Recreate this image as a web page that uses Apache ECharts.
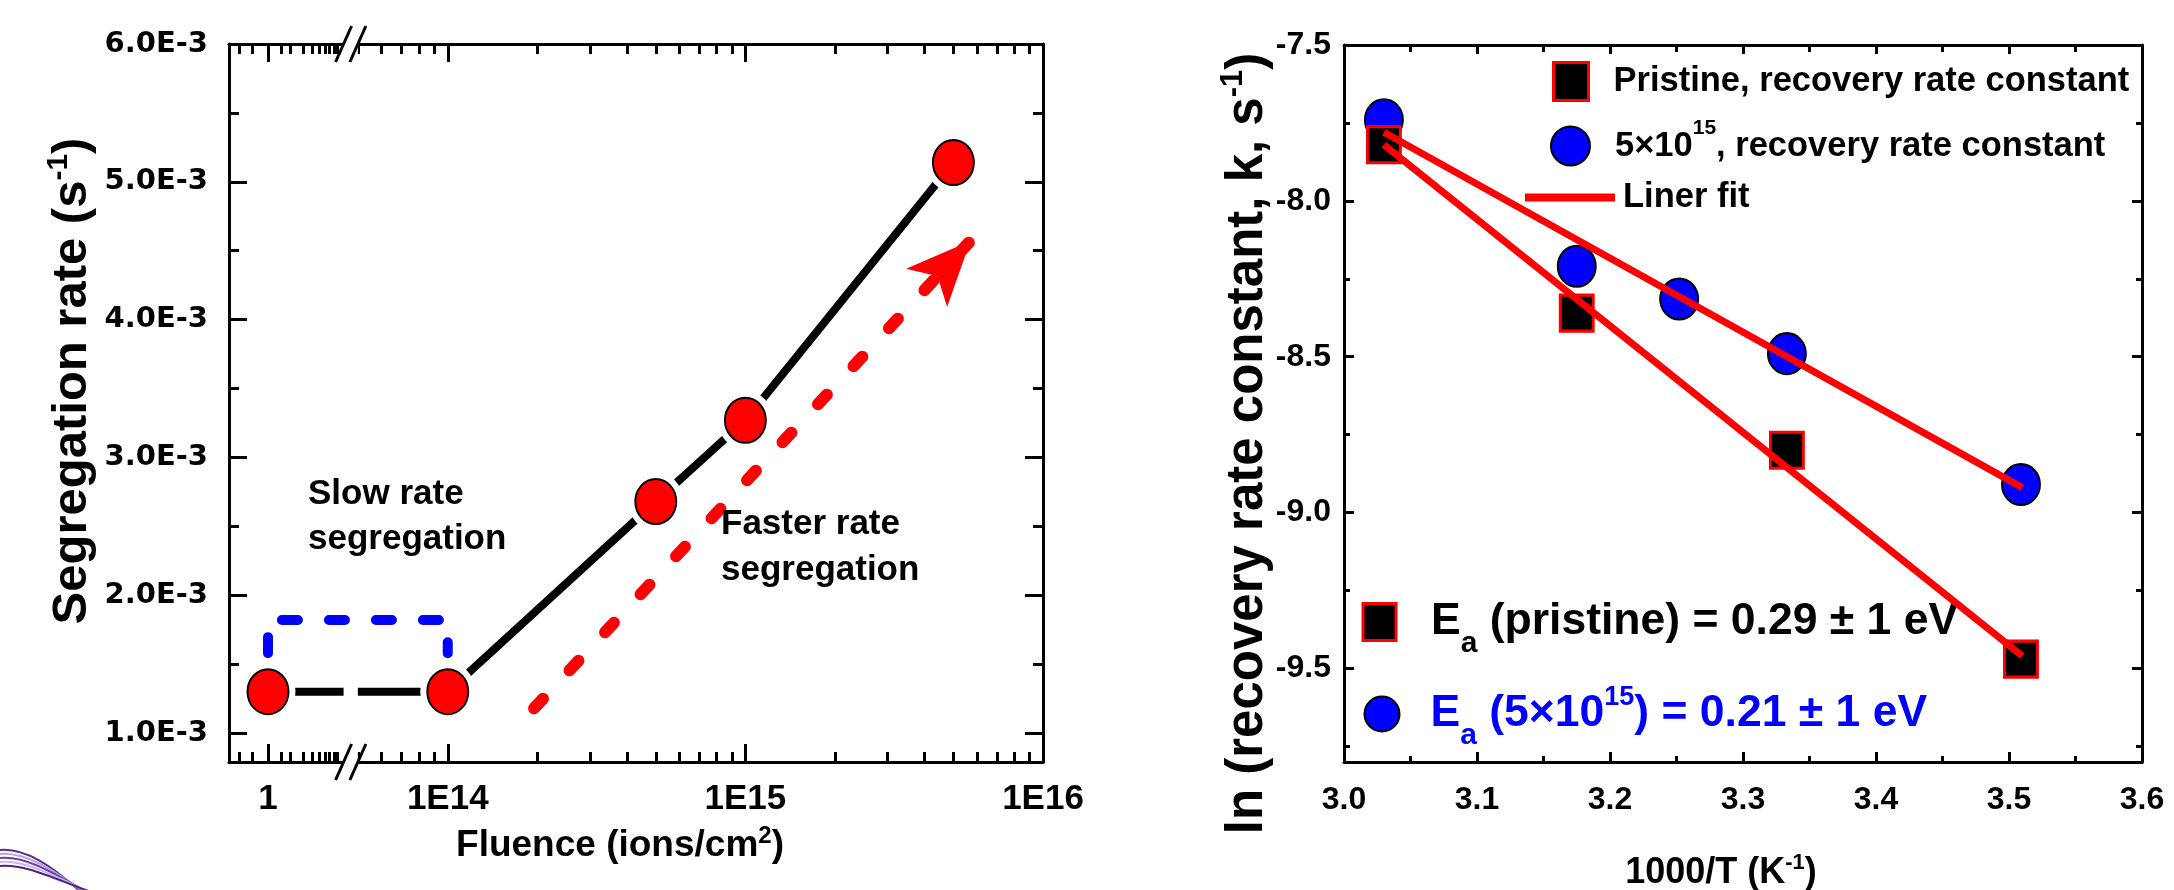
<!DOCTYPE html>
<html>
<head>
<meta charset="utf-8">
<title>Segregation rate and recovery rate constant</title>
<script src="https://cdn.jsdelivr.net/npm/echarts@6.0.0/dist/echarts.min.js"></script>
<style>
  html, body { margin: 0; padding: 0; background: #ffffff; }
  #chart { width: 2174px; height: 890px; }
</style>
</head>
<body>
<div id="chart"></div>
<script>
// ---------- segregation rate vs. fluence ----------
const fluence = [1, 1e14, 5e14, 1e15, 5e15];                         // ions/cm^2
const segregationRate = [1.30e-3, 1.30e-3, 2.68e-3, 3.27e-3, 5.14e-3]; // s^-1
const fluenceTicks = [1, 1e14, 1e15, 1e16];
const fluenceTickLabels = ['1', '1E14', '1E15', '1E16'];
const rateTicks = [1e-3, 2e-3, 3e-3, 4e-3, 5e-3, 6e-3];
const rateTickLabels = ['1.0E-3', '2.0E-3', '3.0E-3', '4.0E-3', '5.0E-3', '6.0E-3'];

// ---------- Arrhenius plot of the recovery rate constant ----------
const invTempPristine = [3.030, 3.175, 3.333, 3.509];                 // 1000/T (K^-1)
const lnkPristine = [-7.82, -8.36, -8.80, -9.47];
const invTempIrradiated = [3.030, 3.175, 3.252, 3.333, 3.509];
const lnkIrradiated = [-7.74, -8.21, -8.315, -8.49, -8.91];
const fitPristineX = [3.03, 3.51];
const fitPristineY = [-7.82, -9.46];
const fitIrradiatedX = [3.03, 3.51];
const fitIrradiatedY = [-7.78, -8.92];
const invTempTicks = [3.0, 3.1, 3.2, 3.3, 3.4, 3.5, 3.6];
const invTempTickLabels = ['3.0', '3.1', '3.2', '3.3', '3.4', '3.5', '3.6'];
const lnkTicks = [-9.5, -9.0, -8.5, -8.0, -7.5];
const lnkTickLabels = ['-9.5', '-9.0', '-8.5', '-8.0', '-7.5'];

const PRISTINE = 'Pristine, recovery rate constant';
const IRRADIATED = '5x10^15, recovery rate constant';
const FIT = 'Liner fit';

// ---------- broken fluence axis ----------
// The value axis runs in decades; the part left of the break holds a
// compressed decade around fluence 1.
const LEFT_ORIGIN = 13.396;
const LEFT_DECADE = 0.2454;
const X_MIN = 13.265, X_MAX = 16;
const BREAK_FROM = 13.650, BREAK_TO = 13.698;
const fx = f => (f >= 1e13 ? Math.log10(f) : LEFT_ORIGIN + Math.log10(f) * LEFT_DECADE);

const majorX = fluenceTicks.map(fx);
const minorX = [0.4, 0.6, 1.5, 2, 3, 4, 5, 6, 7, 8, 9].map(fx);
[13, 14, 15].forEach(d => {
  for (let k = 2; k <= 9; k++) {
    const p = fx(k * Math.pow(10, d));
    if (p > BREAK_TO && p < X_MAX) minorX.push(p);
  }
});
const Y_MIN = 0.79e-3, Y_MAX = 6e-3;
const minorRate = [1.5e-3, 2.5e-3, 3.5e-3, 4.5e-3, 5.5e-3];
const minorInvTemp = [3.05, 3.15, 3.25, 3.35, 3.45, 3.55];
const minorLnk = [-9.75, -9.25, -8.75, -8.25, -7.75];

const BLACK = '#000000';
const RED = '#ff0000';
const BLUE = '#0000ff';
const ARIAL = "'Liberation Sans', Arial, Helvetica, sans-serif";
const WIDE = "'DejaVu Sans', Verdana, sans-serif";

const labelFor = (v, vals, labels) => {
  for (let i = 0; i < vals.length; i++) {
    if (Math.abs(vals[i] - v) < 1e-7 * Math.max(1, Math.abs(v))) return labels[i];
  }
  return '';
};

function axis(extra) {
  return Object.assign({
    type: 'value', silent: true, nameMoveOverlap: false,
    splitLine: { show: false }, minorSplitLine: { show: false },
    axisLine: { show: false, onZero: false },
    axisTick: { show: false }, minorTick: { show: false },
    axisLabel: { show: false }
  }, extra);
}
const frameLine = { show: true, onZero: false, lineStyle: { color: BLACK, width: 3 } };
const ticks = (len, vals) => ({ show: true, inside: true, length: len, customValues: vals,
  lineStyle: { color: BLACK, width: 3 } });
const tickLabels = (vals, labels, size, family, margin) => ({
  show: true, customValues: vals, margin: margin,
  formatter: v => labelFor(v, vals, labels),
  fontFamily: family, fontWeight: 'bold', fontSize: size, lineHeight: size, color: BLACK
});
// axis title with a superscript part: {t|...}{p|...}
function titleStyle(size, supSize, padding) {
  return {
    fontFamily: ARIAL, fontWeight: 'bold', fontSize: size, color: BLACK, padding: padding,
    rich: {
      t: { fontFamily: ARIAL, fontWeight: 'bold', fontSize: size, lineHeight: Math.round(size * 1.16),
           verticalAlign: 'middle', color: BLACK },
      p: { fontFamily: ARIAL, fontWeight: 'bold', fontSize: supSize, lineHeight: supSize,
           verticalAlign: 'top', color: BLACK }
    }
  };
}
// legend text, first row block: main {m|} and raised {p|}
function legendRichTop(size, lineH, supSize) {
  return {
    m: { fontFamily: ARIAL, fontWeight: 'bold', fontSize: size, lineHeight: lineH, verticalAlign: 'middle', color: BLACK },
    p: { fontFamily: ARIAL, fontWeight: 'bold', fontSize: supSize, lineHeight: supSize, verticalAlign: 'top', color: BLACK }
  };
}
// legend text, activation energies: main {m|}, superscript {p|}, subscript {s|}
function legendRichEa(size, color, supSize, supLift, subSize, subDrop) {
  return {
    m: { fontFamily: ARIAL, fontWeight: 'bold', fontSize: size, lineHeight: Math.round(size * 1.15), color: color },
    p: { fontFamily: ARIAL, fontWeight: 'bold', fontSize: supSize, lineHeight: supSize, color: color, padding: [0, 0, supLift, 0] },
    s: { fontFamily: ARIAL, fontWeight: 'bold', fontSize: subSize, lineHeight: subSize, color: color, padding: [subDrop, 0, 0, 0] }
  };
}

const leftPoints = fluence.map((f, i) => [fx(f), segregationRate[i]]);
const pristinePoints = invTempPristine.map((x, i) => [x, lnkPristine[i]]);
const irradiatedPoints = invTempIrradiated.map((x, i) => [x, lnkIrradiated[i]]);
const fitPristine = fitPristineX.map((x, i) => [x, fitPristineY[i]]);
const fitIrradiated = fitIrradiatedX.map((x, i) => [x, fitIrradiatedY[i]]);

const squareStyle = { color: BLACK, borderColor: RED, borderWidth: 3, opacity: 1 };
const circleStyle = { color: BLUE, borderColor: BLACK, borderWidth: 2, opacity: 1 };

const option = {
  backgroundColor: '#ffffff',
  animation: false,
  grid: [
    { left: 229, top: 44, width: 814, height: 718, outerBoundsMode: 'none' },
    { left: 1344, top: 45, width: 798, height: 717, outerBoundsMode: 'none' }
  ],
  xAxis: [
    axis({ gridIndex: 0, position: 'bottom', min: X_MIN, max: X_MAX, axisLine: frameLine,
      axisTick: ticks(18, majorX),
      axisLabel: tickLabels(majorX, fluenceTickLabels, 35, ARIAL, 20),
      name: '{t|Fluence (ions/cm}{p|2}{t|)}', nameLocation: 'middle', nameGap: 62,
      nameTextStyle: titleStyle(37, 24, [0, 32, 0, 0]) }),
    axis({ gridIndex: 0, position: 'bottom', min: X_MIN, max: X_MAX, axisTick: ticks(10, minorX) }),
    axis({ gridIndex: 0, position: 'top', min: X_MIN, max: X_MAX, axisLine: frameLine, axisTick: ticks(18, majorX) }),
    axis({ gridIndex: 0, position: 'top', min: X_MIN, max: X_MAX, axisTick: ticks(10, minorX) }),

    axis({ gridIndex: 1, position: 'bottom', min: 3.0, max: 3.6, axisLine: frameLine,
      axisTick: ticks(10, invTempTicks),
      axisLabel: tickLabels(invTempTicks, invTempTickLabels, 32, ARIAL, 22),
      name: '{t|1000/T (K}{p|-1}{t|)}', nameLocation: 'middle', nameGap: 90,
      nameTextStyle: titleStyle(36, 22, [0, 44, 0, 0]) }),
    axis({ gridIndex: 1, position: 'bottom', min: 3.0, max: 3.6, axisTick: ticks(6, minorInvTemp) }),
    axis({ gridIndex: 1, position: 'top', min: 3.0, max: 3.6, axisLine: frameLine, axisTick: ticks(9, invTempTicks) }),
    axis({ gridIndex: 1, position: 'top', min: 3.0, max: 3.6, axisTick: ticks(7, minorInvTemp) })
  ],
  yAxis: [
    axis({ gridIndex: 0, position: 'left', min: Y_MIN, max: Y_MAX, axisLine: frameLine,
      axisTick: ticks(18, rateTicks),
      axisLabel: tickLabels(rateTicks, rateTickLabels, 29, WIDE, 21),
      name: '{t|Segregation rate (s}{p|-1}{t|)}', nameLocation: 'middle', nameGap: 128,
      nameTextStyle: titleStyle(49, 30, [0, 0, 0, 44]) }),
    axis({ gridIndex: 0, position: 'left', min: Y_MIN, max: Y_MAX, axisTick: ticks(10, minorRate) }),
    axis({ gridIndex: 0, position: 'right', min: Y_MIN, max: Y_MAX, axisLine: frameLine, axisTick: ticks(18, rateTicks) }),
    axis({ gridIndex: 0, position: 'right', min: Y_MIN, max: Y_MAX, axisTick: ticks(10, minorRate) }),

    axis({ gridIndex: 1, position: 'left', min: -9.8, max: -7.5, axisLine: frameLine,
      axisTick: ticks(10, lnkTicks),
      axisLabel: tickLabels(lnkTicks, lnkTickLabels, 32, ARIAL, 13),
      name: '{t|ln (recovery rate constant, k, s}{p|-1}{t|)}', nameLocation: 'middle', nameGap: 67,
      nameTextStyle: titleStyle(51, 31, [0, 80, 0, 0]) }),
    axis({ gridIndex: 1, position: 'left', min: -9.8, max: -7.5, axisTick: ticks(6, minorLnk) }),
    axis({ gridIndex: 1, position: 'right', min: -9.8, max: -7.5, axisLine: frameLine, axisTick: ticks(10, lnkTicks) }),
    axis({ gridIndex: 1, position: 'right', min: -9.8, max: -7.5, axisTick: ticks(6, minorLnk) })
  ],
  legend: [
    { data: [PRISTINE], left: 1552, top: 61, padding: 0, selectedMode: false,
      icon: 'rect', itemWidth: 35, itemHeight: 38, itemStyle: squareStyle,
      formatter: () => '{m|Pristine, recovery rate constant}',
      textStyle: { padding: [0, 0, 0, 20], rich: legendRichTop(34.5, 44, 21) } },
    { data: [IRRADIATED], left: 1550, top: 118, padding: 0, selectedMode: false,
      icon: 'circle', itemWidth: 39, itemHeight: 42, symbolKeepAspect: false, itemStyle: circleStyle,
      formatter: () => '{m|5×10}{p|15}{m|, recovery rate constant}',
      textStyle: { padding: [0, 0, 0, 20], rich: legendRichTop(34.5, 56, 21) } },
    { data: [FIT], left: 1525, top: 180, padding: 0, selectedMode: false,
      icon: 'rect', itemWidth: 90, itemHeight: 8,
      itemStyle: { color: RED, borderWidth: 0, opacity: 1 },
      formatter: () => '{m|Liner fit}',
      textStyle: { padding: [0, 0, 0, 3], rich: legendRichTop(34.5, 44, 21) } },
    { data: [PRISTINE], left: 1361.5, top: 585, padding: 0, selectedMode: false,
      icon: 'rect', itemWidth: 33, itemHeight: 37, itemStyle: squareStyle,
      formatter: () => '{m|E}{s|a}{m| (pristine) = 0.29 ± 1 eV}',
      textStyle: { padding: [0, 0, 0, 30], rich: legendRichEa(44.5, BLACK, 27, 33, 30, 44) } },
    { data: [IRRADIATED], left: 1363.5, top: 677, padding: 0, selectedMode: false,
      icon: 'circle', itemWidth: 35, itemHeight: 42, symbolKeepAspect: false, itemStyle: circleStyle,
      formatter: () => '{m|E}{s|a}{m| (5×10}{p|15}{m|) = 0.21 ± 1 eV}',
      textStyle: { padding: [0, 0, 0, 26], rich: legendRichEa(44.5, BLUE, 27, 33, 30, 44) } }
  ],
  series: [
    // segregation rate trend line
    { type: 'line', xAxisIndex: 0, yAxisIndex: 0, data: leftPoints, symbol: 'none', silent: true,
      lineStyle: { color: BLACK, width: 8 }, z: 2 },
    // white gap around each marker
    { type: 'scatter', xAxisIndex: 0, yAxisIndex: 0, data: leftPoints, symbol: 'circle',
      symbolSize: [55, 59], itemStyle: { color: '#ffffff', opacity: 1 }, silent: true, z: 3 },
    // dashed bracket over the slow-rate region, plus the trend arrow
    { type: 'line', xAxisIndex: 0, yAxisIndex: 0, symbol: 'none', silent: true, z: 4,
      data: [[fx(1), 1.58e-3], [fx(1), 1.82e-3], [fx(1e14), 1.82e-3], [fx(1e14), 1.58e-3]],
      lineStyle: { color: BLUE, width: 10, type: [16, 31], cap: 'round', join: 'round' },
      markLine: {
        silent: true, animation: false, symbol: ['none', 'arrow'], symbolSize: [0, 63],
        label: { show: false },
        lineStyle: { color: RED, width: 12, type: [13, 39], cap: 'round' },
        data: [[{ coord: [fx(1.95e14), 1.18e-3] }, { coord: [fx(5.7e15), 4.57e-3], symbolSize: [42, 64] }]]
      } },
    { type: 'scatter', xAxisIndex: 0, yAxisIndex: 0, data: leftPoints, symbol: 'circle',
      symbolSize: [41, 45], itemStyle: { color: RED, borderColor: BLACK, borderWidth: 2, opacity: 1 },
      silent: true, z: 5 },

    // Arrhenius plot
    { type: 'scatter', name: IRRADIATED, xAxisIndex: 4, yAxisIndex: 4, data: irradiatedPoints,
      symbol: 'circle', symbolSize: [38, 41], itemStyle: circleStyle, z: 2 },
    { type: 'scatter', name: PRISTINE, xAxisIndex: 4, yAxisIndex: 4, data: pristinePoints,
      symbol: 'rect', symbolSize: [33, 36], itemStyle: squareStyle, z: 3 },
    { type: 'line', name: FIT, xAxisIndex: 4, yAxisIndex: 4, data: fitPristine, symbol: 'none',
      lineStyle: { color: RED, width: 7 }, itemStyle: { color: RED }, z: 4 },
    { type: 'line', name: FIT, xAxisIndex: 4, yAxisIndex: 4, data: fitIrradiated, symbol: 'none',
      lineStyle: { color: RED, width: 7 }, itemStyle: { color: RED }, z: 4 }
  ]
};

const chart = echarts.init(document.getElementById('chart'), null, { renderer: 'canvas', width: 2174, height: 890 });
chart.setOption(option);

// axis break, annotations and corner ornament
const bx0 = chart.convertToPixel({ xAxisIndex: 0 }, BREAK_FROM);
const bx1 = chart.convertToPixel({ xAxisIndex: 0 }, BREAK_TO);
const yTop = chart.convertToPixel({ yAxisIndex: 0 }, Y_MAX);
const yBot = chart.convertToPixel({ yAxisIndex: 0 }, Y_MIN);
const slash = (x, y) => ({ type: 'line', silent: true, z: 10,
  shape: { x1: x - 8, y1: y + 18, x2: x + 8, y2: y - 18 },
  style: { stroke: BLACK, lineWidth: 3 } });
const note = (text, x, y) => ({ type: 'text', x: x, y: y, silent: true, z: 10,
  style: { text: text, fill: BLACK, font: 'bold 35px ' + ARIAL,
    fontFamily: ARIAL, fontSize: 35, fontWeight: 'bold',
    align: 'left', verticalAlign: 'middle', textAlign: 'left', textVerticalAlign: 'middle' } });
const swoosh = [];
['#5a2a8c', '#b8a4de', '#6d3fa6', '#c9b9ea', '#4b2379'].forEach((c, i) => {
  swoosh.push({ type: 'bezierCurve', silent: true, z: 1,
    shape: { x1: 0, y1: 850 + i * 4, cpx1: 26, cpy1: 848 + i * 4, cpx2: 52, cpy2: 866 + i * 3, x2: 82 + i * 3, y2: 893 },
    style: { stroke: c, lineWidth: 2, fill: null } });
});

chart.setOption({
  graphic: [
    { type: 'rect', silent: true, z: 3,
      shape: { x: bx0, y: yTop - 4, width: bx1 - bx0, height: yBot - yTop + 8 },
      style: { fill: '#ffffff' } },
    slash(bx0, yBot), slash(bx1, yBot), slash(bx0, yTop), slash(bx1, yTop),
    note('Slow rate', 308, 494),
    note('segregation', 308, 539),
    note('Faster rate', 721, 524),
    note('segregation', 721, 570)
  ].concat(swoosh)
});
</script>
</body>
</html>
